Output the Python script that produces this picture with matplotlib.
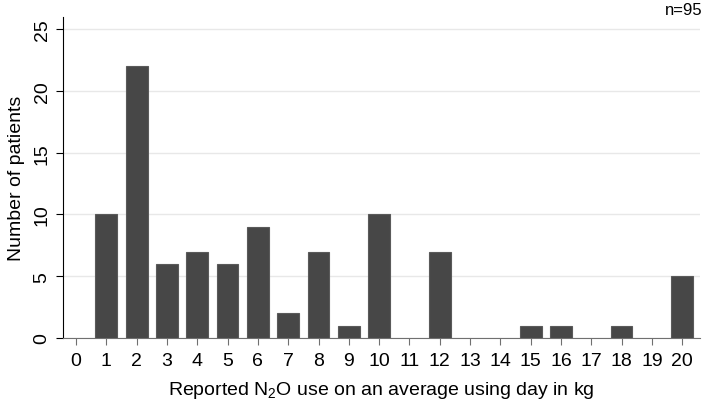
import matplotlib
matplotlib.use("Agg")
import matplotlib.pyplot as plt

kg = [1, 2, 3, 4, 5, 6, 7, 8, 9, 10, 12, 15, 16, 18, 20]
patients = [10, 22, 6, 7, 6, 9, 2, 7, 1, 10, 7, 1, 1, 1, 5]
xticks = list(range(0, 21))
yticks = [0, 5, 10, 15, 20, 25]

plt.rcParams['font.family'] = ['Liberation Sans', 'DejaVu Sans']
plt.rcParams['mathtext.fontset'] = 'custom'
plt.rcParams['mathtext.rm'] = 'Liberation Sans'
plt.rcParams['mathtext.it'] = 'Liberation Sans'
plt.rcParams['mathtext.bf'] = 'Liberation Sans'

fig = plt.figure(figsize=(7.05, 4.02), dpi=100)
ax = fig.add_axes([0.0894, 0.1567, 0.904, 0.798])

ax.bar(kg, patients, width=0.72, color='#474747', edgecolor='#5a5a5a', linewidth=0.8, zorder=3)

ax.set_xlim(-0.43, 20.6)
ax.set_ylim(0, 25.97)
ax.set_xticks(xticks)
ax.set_yticks(yticks)
ax.set_yticklabels([str(v) for v in yticks], rotation=90, va='center')
ax.yaxis.grid(True, color='#e8e8e8', linewidth=1.0, zorder=0)
ax.set_axisbelow(True)

for s in ['top', 'right']:
    ax.spines[s].set_visible(False)
ax.spines['left'].set_color('black')
ax.spines['bottom'].set_color('#707070')
ax.tick_params(axis='x', colors='#707070', labelcolor='black', length=5, labelsize=14, pad=5)
ax.tick_params(axis='y', colors='black', labelsize=14, length=5, pad=4)

ax.set_xlabel(r'Reported N$\mathregular{_2}$O use on an average using day in kg', fontsize=14, labelpad=7)
ax.set_ylabel('Number of patients', fontsize=14, labelpad=6)

fig.text(0.997, 0.975, 'n=95', ha='right', va='center', fontsize=12)

fig.savefig('out.png', dpi=100)
